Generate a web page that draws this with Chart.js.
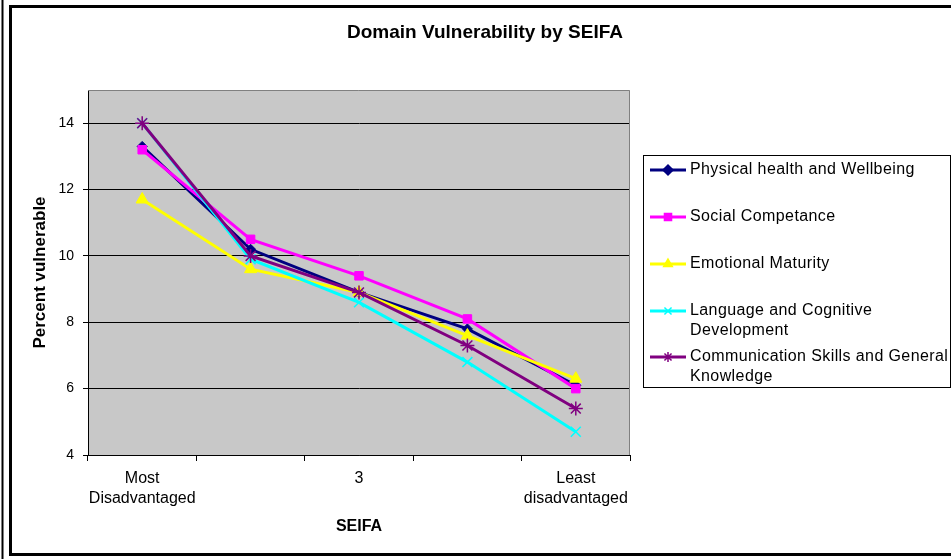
<!DOCTYPE html>
<html>
<head>
<meta charset="utf-8">
<script src="https://cdn.jsdelivr.net/npm/chart.js@4/dist/chart.umd.min.js"></script>
<style>
html,body{margin:0;padding:0;background:#fff;}
canvas{display:block;}
</style>
</head>
<body>
<canvas id="c" width="951" height="559"></canvas>
<script>
const chartTitle = 'Domain Vulnerability by SEIFA';
const xTitle = 'SEIFA';
const yTitle = 'Percent vulnerable';
const categories = [['Most', 'Disadvantaged'], '', '3', '', ['Least', 'disadvantaged']];
const seriesNames = ['Physical health and Wellbeing', 'Social Competance', 'Emotional Maturity', 'Language and Cognitive Development', 'Communication Skills and General Knowledge'];
const legendLines = [['Physical health and Wellbeing'], ['Social Competance'], ['Emotional Maturity'], ['Language and Cognitive', 'Development'], ['Communication Skills and General', 'Knowledge']];
const physical = [13.3, 10.2, 8.9, 7.8, 6.1];
const social = [13.2, 10.5, 9.4, 8.1, 6.0];
const emotional = [11.7, 9.6, 8.9, 7.6, 6.3];
const language = [14.0, 9.9, 8.6, 6.8, 4.7];
const communication = [14.0, 10.0, 8.9, 7.3, 5.4];
const yMin = 4, yMax = 15, yStep = 2;

const FONT = 'Liberation Sans, Arial, sans-serif';
const colors = ['#000080', '#FF00FF', '#FFFF00', '#00FFFF', '#800080'];
const styles = ['rectRot', 'rect', 'triangle', 'crossRot', 'star'];
const radii = [5, 6, 7, 7, 7];
const values = [physical, social, emotional, language, communication];

const datasets = seriesNames.map((n, i) => ({
  label: n,
  data: values[i],
  order: seriesNames.length - i,
  borderColor: colors[i],
  backgroundColor: colors[i],
  pointBackgroundColor: colors[i],
  pointBorderColor: colors[i],
  pointStyle: styles[i],
  pointRadius: radii[i],
  pointBorderWidth: (styles[i] === 'crossRot' || styles[i] === 'star') ? 1.5 : 1,
  borderWidth: 3,
  tension: 0,
  fill: false
}));

const decor = {
  id: 'decor',
  beforeDraw(chart) {
    const ctx = chart.ctx;
    ctx.save();
    ctx.fillStyle = '#fff';
    ctx.fillRect(0, 0, chart.width, chart.height);
    ctx.strokeStyle = '#000';
    ctx.lineWidth = 2;
    ctx.beginPath(); ctx.moveTo(2.5, 0); ctx.lineTo(2.5, 559); ctx.stroke();
    ctx.lineWidth = 3;
    ctx.strokeRect(10.5, 6.5, 960, 548);
    const a = chart.chartArea;
    ctx.fillStyle = '#C8C8C8';
    ctx.fillRect(a.left, a.top, a.right - a.left, a.bottom - a.top);
    ctx.restore();
  },
  afterDraw(chart) {
    const ctx = chart.ctx;
    const a = chart.chartArea;
    ctx.save();
    ctx.strokeStyle = '#808080';
    ctx.lineWidth = 1;
    ctx.beginPath();
    ctx.moveTo(a.left, a.top + 0.5); ctx.lineTo(a.right - 0.5, a.top + 0.5); ctx.lineTo(a.right - 0.5, a.bottom);
    ctx.stroke();
    ctx.fillStyle = '#000';
    ctx.font = 'bold 19px ' + FONT;
    ctx.textAlign = 'center';
    ctx.textBaseline = 'middle';
    ctx.fillText(chartTitle, 485, 33);
    const lx = 643.5, ly = 155.5, lw = 307, lh = 232;
    ctx.fillStyle = '#fff';
    ctx.fillRect(lx, ly, lw, lh);
    ctx.strokeStyle = '#000';
    ctx.lineWidth = 1;
    ctx.strokeRect(lx, ly, lw, lh);
    const rowY = [170, 217, 264, 311, 357];
    ctx.font = '16px ' + FONT;
    ctx.textAlign = 'left';
    ctx.textBaseline = 'middle';
    chart.data.datasets.forEach((ds, i) => {
      const y = rowY[i];
      ctx.strokeStyle = ds.borderColor;
      ctx.lineWidth = 3;
      ctx.beginPath(); ctx.moveTo(650, y); ctx.lineTo(686, y); ctx.stroke();
      ctx.fillStyle = ds.borderColor;
      ctx.lineWidth = 1.5;
      Chart.helpers.drawPoint(ctx, {pointStyle: ds.pointStyle, radius: 5, rotation: 0, borderWidth: 1.5}, 668, y);
      ctx.fillStyle = '#000';
      if ('letterSpacing' in ctx) ctx.letterSpacing = '0.4px';
      legendLines[i].forEach((t, k) => ctx.fillText(t, 690, y + k * 20));
      if ('letterSpacing' in ctx) ctx.letterSpacing = '0px';
    });
    ctx.restore();
  }
};

new Chart(document.getElementById('c'), {
  type: 'line',
  data: { labels: categories, datasets },
  options: {
    responsive: false,
    animation: false,
    devicePixelRatio: 1,
    layout: { padding: { left: 0, top: 90, right: 321, bottom: 0 } },
    plugins: { legend: { display: false }, title: { display: false }, tooltip: { enabled: false } },
    scales: {
      x: {
        type: 'category',
        offset: true,
        afterFit(s) { s.height = 104; },
        grid: { offset: true, drawOnChartArea: false, drawTicks: true, tickLength: 6, color: '#000', tickColor: '#000' },
        border: { display: true, color: '#000', width: 1 },
        ticks: { color: '#000', font: { family: FONT, size: 16, lineHeight: 1.25 }, padding: 8, maxRotation: 0, autoSkip: false },
        title: { display: true, text: xTitle, color: '#000', font: { family: FONT, size: 16, weight: 'bold' }, padding: { top: 0, bottom: 23 } }
      },
      y: {
        min: yMin, max: yMax,
        afterFit(s) { s.width = 88; },
        afterBuildTicks(s) { s.ticks = s.ticks.filter(t => (t.value - yMin) % yStep === 0); },
        grid: { color: '#000', tickColor: '#000', tickLength: 5, lineWidth: 1 },
        border: { display: true, color: '#000', width: 1 },
        ticks: { stepSize: yStep, includeBounds: false, color: '#000', font: { family: FONT, size: 14 }, padding: 9 },
        title: { display: true, text: yTitle, color: '#000', font: { family: FONT, size: 17, weight: 'bold' }, padding: { top: 30, bottom: 0 } }
      }
    }
  },
  plugins: [decor]
});
</script>
</body>
</html>
